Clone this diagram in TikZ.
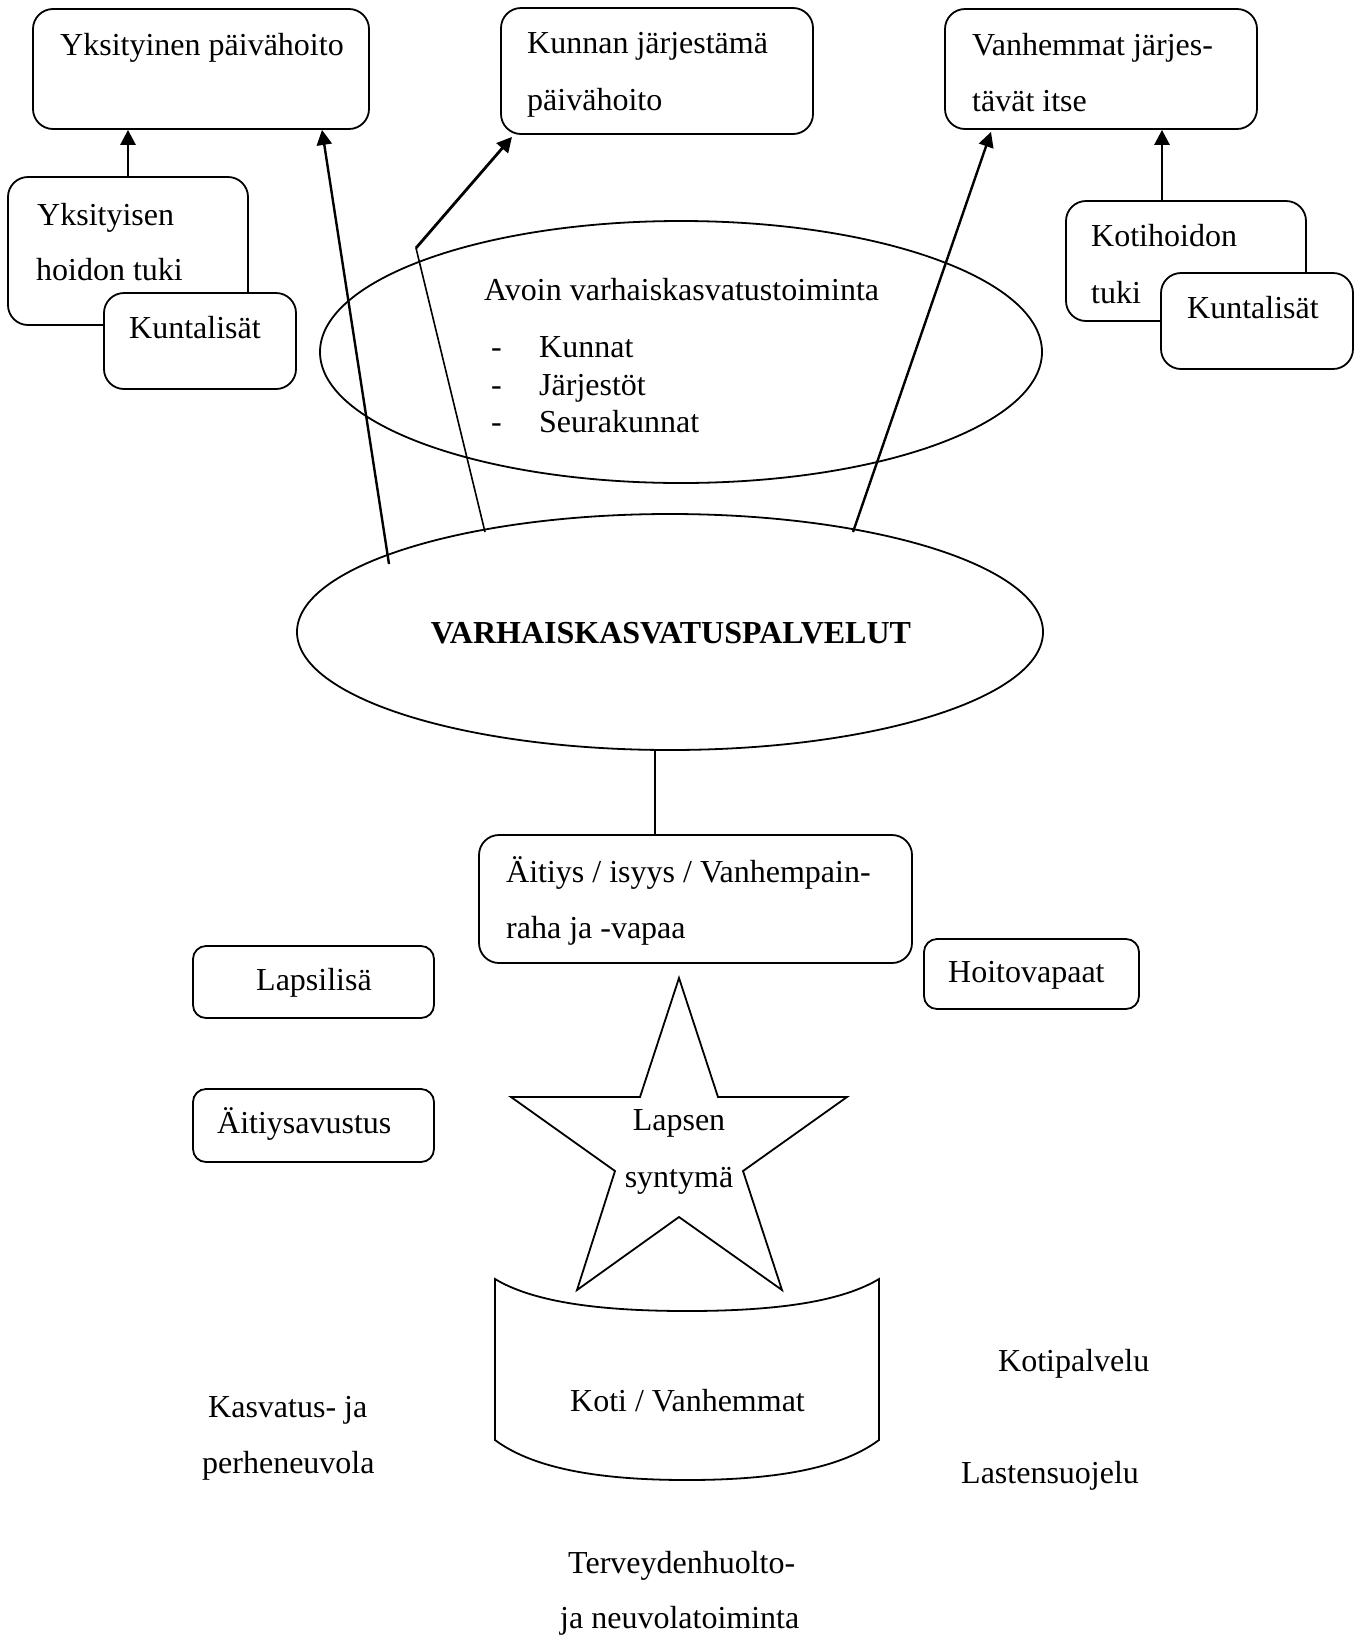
\documentclass[tikz,border=0pt]{standalone}
\usepackage{fontspec}
\setmainfont{Liberation Serif}
\usetikzlibrary{arrows.meta,shapes.geometric,calc}
\begin{document}
\begin{tikzpicture}[x=1pt,y=-1pt,
  font=\fontsize{32}{38}\selectfont,
  bx/.style={draw, line width=1.8pt, rounded corners=20pt, fill=white, inner sep=0pt},
  sbx/.style={bx, rounded corners=13pt},
  txt/.style={anchor=base west, inner sep=0pt},
  ctxt/.style={anchor=base, inner sep=0pt},
  arr/.style={line width=2.4pt, -{Triangle[length=15pt,width=15pt]}},
  ell/.style={draw, ellipse, line width=1.8pt, inner sep=0pt},
  thinln/.style={line width=1.8pt}]
\useasboundingbox (0,0) rectangle (1363,1639);

% top boxes
\node[bx, minimum width=336pt, minimum height=120pt] (yp) at (201,69) {};
\node[bx, minimum width=312pt, minimum height=126pt] (kp) at (657,71) {};
\node[bx, minimum width=312pt, minimum height=120pt] (vp) at (1101,69) {};
\node[txt] (ypt) at (60,55) {Yksityinen päivähoito};
\node[txt] (kpt1) at (527,53) {Kunnan järjestämä};
\node[txt] (kpt2) at (527,110) {päivähoito};
\node[txt] (vpt1) at (972,55) {Vanhemmat järjes-};
\node[txt] (vpt2) at (972,111) {tävät itse};

% support boxes
\node[bx, minimum width=240pt, minimum height=148pt] (yht) at (128,251) {};
\node[bx, minimum width=192pt, minimum height=96pt] (kl1) at (200,341) {};
\node[txt] (ytt1) at (37,225) {Yksityisen};
\node[txt] (ytt2) at (36,280) {hoidon tuki};
\node[txt] (kl1t) at (129,338) {Kuntalisät};

\node[bx, minimum width=240pt, minimum height=120pt] (kht) at (1186,261) {};
\node[bx, minimum width=192pt, minimum height=96pt] (kl2) at (1257,321) {};
\node[txt] (ktt1) at (1091,246) {Kotihoidon};
\node[txt] (ktt2) at (1091,303) {tuki};
\node[txt] (kl2t) at (1187,318) {Kuntalisät};

\draw[arr, line width=2.7pt] (yht.north) -- (yht.north |- yp.south);
\draw[arr, line width=2.7pt] ([xshift=-24pt]kht.north) -- ([xshift=-24pt]kht.north |- vp.south);

% Avoin ellipse
\node[ell, minimum width=722pt, minimum height=262pt] (av) at (681,352) {};
\node[txt] (avt) at (484,300) {Avoin varhaiskasvatustoiminta};
\node[txt] (d1) at (491,357) {-};
\node[txt] (d2) at (491,395) {-};
\node[txt] (d3) at (491,432) {-};
\node[txt] (i1) at (539,357) {Kunnat};
\node[txt] (i2) at (539,395) {Järjestöt};
\node[txt] (i3) at (539,432) {Seurakunnat};

% Varhaiskasvatuspalvelut ellipse
\node[ell, minimum width=746pt, minimum height=236pt] (vk) at (670,632) {};
\node[ctxt] (vkt) at (671,643) {\bfseries VARHAISKASVATUSPALVELUT};

% connectors from VK
\coordinate (s1) at (389,564);
\coordinate (s2) at (485,532);
\coordinate (b2) at (416,248);
\coordinate (s3) at (853,532);
\draw[arr] (s1) -- ([xshift=121pt]yp.south);
\draw[line width=1.6pt] (s2) -- (b2);
\draw[arr, line width=2.8pt] (b2) -- ([xshift=-145pt,yshift=-2pt]kp.south);
\draw[arr] (s3) -- ([xshift=-110pt,yshift=-2pt]vp.south);

% Aitiys box
\node[bx, minimum width=433pt, minimum height=128pt] (ait) at (695.5,899) {};
\node[txt] (ait1) at (506,882) {Äitiys / isyys / Vanhempain-};
\node[txt] (ait2) at (506,938) {raha ja -vapaa};
\coordinate (lx) at (655,0);
\draw[thinln] (vk.south -| lx) -- (ait.north -| lx);

% small boxes
\node[sbx, minimum width=241pt, minimum height=72pt] (lap) at (313.5,982) {};
\node[txt] (lapt) at (256,990) {Lapsilisä};
\node[sbx, minimum width=215pt, minimum height=70pt] (hoi) at (1031.5,974) {};
\node[txt] (hoit) at (948,982) {Hoitovapaat};
\node[sbx, minimum width=241pt, minimum height=73pt] (aav) at (313.5,1125.5) {};
\node[txt] (aavt) at (217,1133) {Äitiysavustus};

% star
\draw[thinln, line join=miter] (679,978) -- (718,1097) -- (847,1097) -- (743,1171) -- (782,1290)
  -- (679,1217) -- (577,1290) -- (615,1171) -- (511,1097) -- (640,1097) -- cycle;
\node[ctxt] (st1) at (679,1130) {Lapsen};
\node[ctxt] (st2) at (679,1187) {syntymä};

% home shape
\draw[thinln] (495,1279) -- (495,1440)
  .. controls (530,1466) and (590,1480) .. (687,1480)
  .. controls (784,1480) and (844,1466) .. (879,1440)
  -- (879,1279)
  .. controls (844,1300) and (784,1311) .. (687,1311)
  .. controls (590,1311) and (530,1300) .. (495,1279) -- cycle;
\node[txt] (koti) at (570,1411) {Koti / Vanhemmat};

% free texts
\node[txt] (kas1) at (208,1417) {Kasvatus- ja};
\node[txt] (kas2) at (202,1473) {perheneuvola};
\node[txt] (kot) at (998,1371) {Kotipalvelu};
\node[txt] (las) at (961,1483) {Lastensuojelu};
\node[txt] (ter1) at (568,1573) {Terveydenhuolto-};
\node[txt] (ter2) at (560,1628) {ja neuvolatoiminta};
\end{tikzpicture}
\end{document}
